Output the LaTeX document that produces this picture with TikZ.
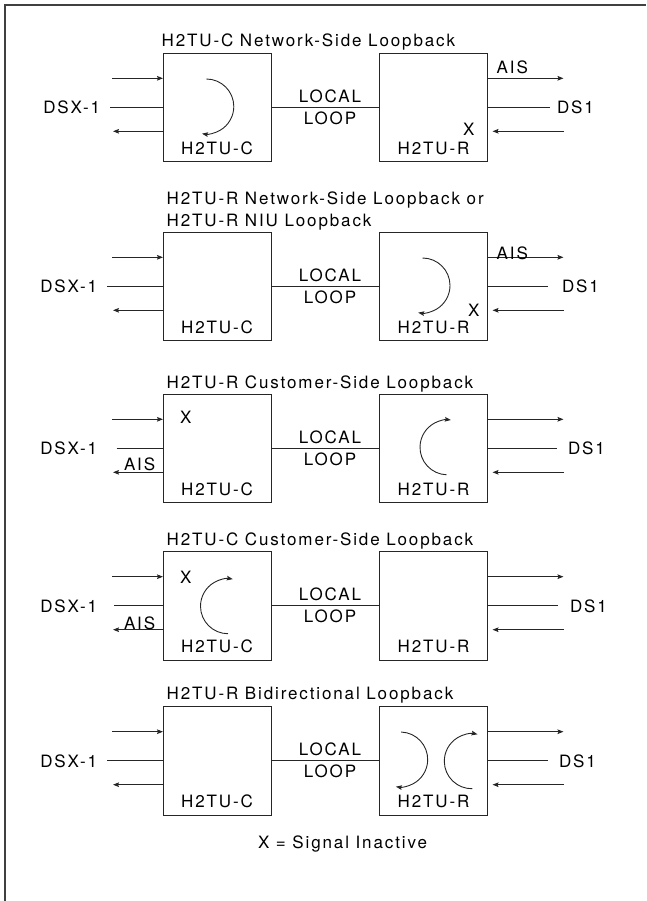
\documentclass[tikz,border=0pt]{standalone}
\usepackage{fontspec}
\setmainfont{TeX Gyre Heros}[LetterSpace=11]
\usetikzlibrary{arrows.meta}
\tikzset{
  box/.style={draw=black!85, line width=0.9pt, minimum width=108pt, minimum height=108.4pt, inner sep=0pt, outer sep=0pt},
  lbl/.style={inner sep=0pt, outer sep=0pt, font=\fontsize{17}{20}\selectfont, text=black},
  ln/.style={draw=black!85, line width=0.9pt},
  arr/.style={ln, -{Stealth[length=6pt,width=4.6pt,inset=1pt]}},
  frame/.style={draw=black!75, line width=1.6pt}
}
% #1 id, #2 top y, #3 left middle start x, #4 right middle end x, #5 DS1 left x, #6 DSX-1 right x
\newcommand\drawpanel[6]{%
  \node[box,anchor=north west] (C#1) at (163,#2) {};
  \node[box,anchor=north west] (R#1) at (379,#2) {};
  \node[lbl,anchor=base] (Cl#1) at (217,{#2+101}) {H2TU-C};
  \node[lbl,anchor=base] (Rl#1) at (433.5,{#2+101}) {H2TU-R};
  \coordinate (a#1) at (112,{#2+25});
  \coordinate (b#1) at (#3,{#2+54});
  \coordinate (c#1) at (113,{#2+78});
  \coordinate (d#1) at (563.5,{#2+25});
  \coordinate (e#1) at (#4,{#2+54});
  \coordinate (f#1) at (564,{#2+78});
  \coordinate (g#1) at (492.5,{#2+78});
  \draw[arr] (a#1) -- (a#1 -| C#1.west);
  \draw[ln] (b#1) -- (b#1 -| C#1.west);
  \draw[arr] (c#1 -| C#1.west) -- (c#1);
  \draw[arr] (d#1 -| R#1.east) -- (d#1);
  \draw[ln] (e#1 -| R#1.east) -- (e#1);
  \draw[arr] (f#1) -- (g#1);
  \draw[ln] (b#1 -| C#1.east) -- (b#1 -| R#1.west);
  \node[lbl,anchor=base east] (dsx#1) at (#6,{#2+60.4}) {DSX-1};
  \node[lbl,anchor=base west] (ds#1) at (#5,{#2+60.4}) {DS1};
  \node[lbl,anchor=base] (lc#1) at (330,{#2+49}) {LOCAL};
  \node[lbl,anchor=base] (lo#1) at (330,{#2+71}) {LOOP};
}
\begin{document}
\begin{tikzpicture}[x=1pt,y=-1pt]
\useasboundingbox (0,0) rectangle (646,901);
\draw[frame] (5,901) -- (5,5) -- (646,5);

% Panel 1
\node[lbl,anchor=base west] (t1) at (161.7,47) {H2TU-C Network-Side Loopback};
\drawpanel{1}{53.3}{110}{550}{557}{100}
\node[lbl,anchor=base west] (ais1) at (496.7,74) {AIS};
\node[lbl,anchor=base west] (x1) at (463,136) {X};
\coordinate (lp1) at ([shift={(-90:27.5)}]206.3,106.5);
\draw[arr] (lp1) arc[start angle=-90, end angle=99, radius=27.5];

% Panel 2
\node[lbl,anchor=base west] (t2a) at (166.7,205) {H2TU-R Network-Side Loopback or};
\node[lbl,anchor=base west] (t2b) at (166.7,226.7) {H2TU-R NIU Loopback};
\drawpanel{2}{232.3}{107}{548}{562}{97}
\node[lbl,anchor=base west] (ais2) at (496.7,259.3) {AIS};
\node[lbl,anchor=base west] (x2) at (468,316.7) {X};
\coordinate (lp2) at ([shift={(-90:27.5)}]422.5,285.5);
\draw[arr] (lp2) arc[start angle=-90, end angle=99, radius=27.5];

% Panel 3
\node[lbl,anchor=base west] (t3) at (166.7,388.3) {H2TU-R Customer-Side Loopback};
\drawpanel{3}{394.3}{116.7}{557}{568}{97}
\node[lbl,anchor=base west] (x3) at (180,423.3) {X};
\node[lbl,anchor=base west] (ais3) at (124,470.3) {AIS};
\coordinate (lp3) at ([shift={(92:27.5)}]447.5,447.3);
\draw[arr] (lp3) arc[start angle=92, end angle=277, radius=27.5];

% Panel 4
\node[lbl,anchor=base west] (t4) at (166.7,545.7) {H2TU-C Customer-Side Loopback};
\drawpanel{4}{551.7}{114}{558}{570}{97}
\node[lbl,anchor=base west] (x4) at (180,583) {X};
\node[lbl,anchor=base west] (ais4) at (124,629.5) {AIS};
\coordinate (lp4) at ([shift={(90:27.5)}]228,606.2);
\draw[arr] (lp4) arc[start angle=90, end angle=280, radius=27.5];

% Panel 5
\node[lbl,anchor=base west] (t5) at (166.7,699.3) {H2TU-R Bidirectional Loopback};
\drawpanel{5}{706.7}{107}{548}{559}{97}
\coordinate (lp5a) at ([shift={(-88:27.5)}]400.2,759.5);
\draw[arr] (lp5a) arc[start angle=-88, end angle=99, radius=27.5];
\coordinate (lp5b) at ([shift={(89:27.5)}]471.8,761.2);
\draw[arr] (lp5b) arc[start angle=89, end angle=282, radius=27.5];

\node[lbl,anchor=base west] (cap) at (258,848.3) {X = Signal Inactive};
\end{tikzpicture}
\end{document}
